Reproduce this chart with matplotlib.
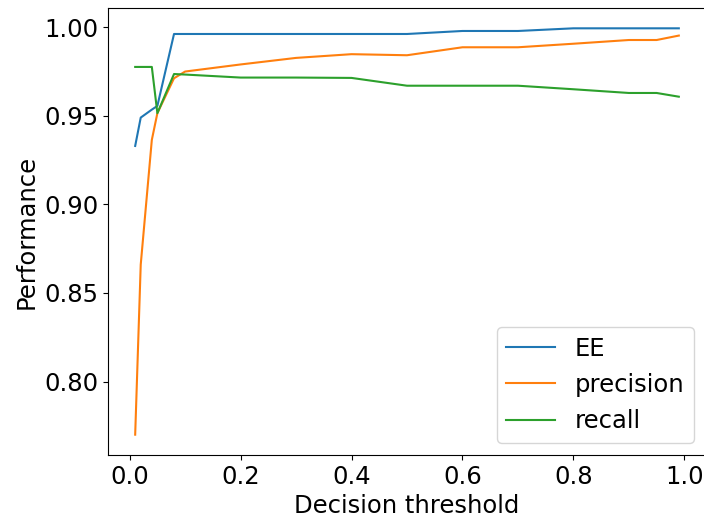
import matplotlib
matplotlib.use("Agg")
import matplotlib.pyplot as plt

# === Data ===
thresholds = [0.01, 0.02, 0.04, 0.05, 0.08, 0.1, 0.2, 0.3, 0.4, 0.5,
              0.6, 0.7, 0.8, 0.9, 0.95, 0.99]
ee = [0.933, 0.949, 0.9535, 0.9556, 0.9962, 0.9962, 0.9962, 0.9962, 0.9962, 0.9962,
      0.9979, 0.9979, 0.9994, 0.9994, 0.9994, 0.9994]
precision = [0.770, 0.866, 0.9364, 0.9515, 0.9712, 0.975, 0.979, 0.9827, 0.9848, 0.9842,
             0.9887, 0.9887, 0.9907, 0.9928, 0.9928, 0.9953]
recall = [0.9776, 0.9776, 0.9776, 0.9515, 0.9736, 0.9733, 0.9716, 0.9716, 0.9714, 0.967,
          0.967, 0.967, 0.965, 0.9629, 0.9629, 0.9608]

plt.rcParams['font.size'] = 17.5

fig = plt.figure(figsize=(7.04, 5.2), dpi=100)
# axes placed to match the reference (right spine falls just past the image edge)
ax = fig.add_axes([108 / 704, 65 / 520, 598 / 704, 447 / 520])
ax.plot(thresholds, ee, label='EE')
ax.plot(thresholds, precision, label='precision')
ax.plot(thresholds, recall, label='recall')
ax.set_xlabel('Decision threshold')
ax.set_ylabel('Performance')
ax.legend(loc='lower right')
fig.savefig('out.png')
